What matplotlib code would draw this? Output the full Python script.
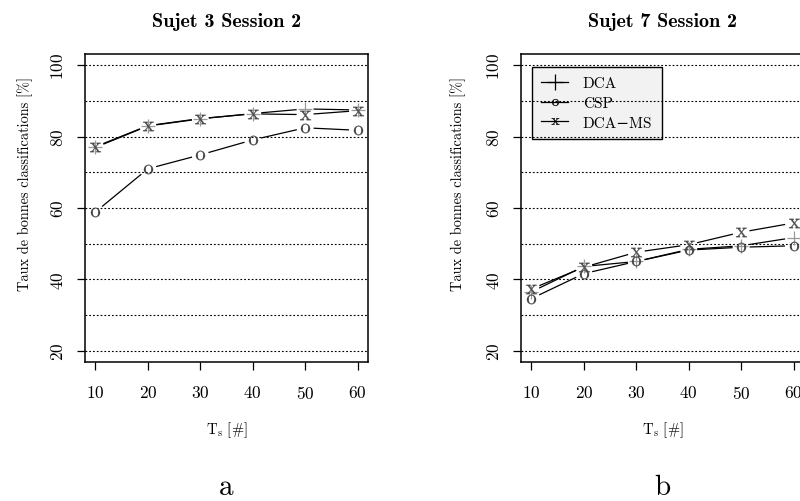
import matplotlib
matplotlib.use("Agg")
import matplotlib.pyplot as plt
from matplotlib.lines import Line2D
from matplotlib.ticker import MultipleLocator
import numpy as np

plt.rcParams['font.family'] = ['cmr10', 'DejaVu Serif']
plt.rcParams['mathtext.fontset'] = 'cm'
plt.rcParams['axes.formatter.use_mathtext'] = True

# ---- data ----
T = [10, 20, 30, 40, 50, 60]
titles = ["Sujet 3 Session 2", "Sujet 7 Session 2"]
panel_letters = ["a", "b"]
series_names = ["DCA", "CSP", "DCA\u2212MS"]

a_dca = [77.0, 83.0, 85.0, 86.5, 87.8, 87.5]
a_csp = [58.9, 71.0, 74.9, 79.1, 82.5, 81.8]
a_dcams = [77.2, 83.1, 85.1, 86.4, 86.2, 87.3]

b_dca = [36.5, 43.6, 45.0, 48.4, 49.4, 51.7]
b_csp = [34.6, 41.6, 45.0, 48.2, 49.0, 49.4]
b_dcams = [37.3, 43.4, 47.6, 49.7, 53.2, 55.8]

y_ticks = [20, 40, 60, 80, 100]
x_label = r"T$_{\rm s}$ [#]"
y_label = "Taux de bonnes classifications [%]"

# ---- styles ----
W, H = 800, 502
markers = ['+', r'$\mathrm{o}$', r'$\mathrm{x}$']
mcolors = ['#9a9a9a', '#404040', '#4a4a4a']
msizes = [10, 6.8, 7.8]
mews = [0.9, 0.2, 0.2]

fig = plt.figure(figsize=(W / 100, H / 100), dpi=100)


def px_axes(left, top, width, height):
    return fig.add_axes([left / W, 1 - (top + height) / H, width / W, height / H])


def gapped_line(ax, x, y, gap=8.5):
    pts = ax.transData.transform(np.column_stack([x, y]))
    inv = ax.transData.inverted()
    for p0, p1 in zip(pts[:-1], pts[1:]):
        d = p1 - p0
        L = np.hypot(*d)
        if L <= 2 * gap:
            continue
        u = d / L
        q = inv.transform(np.array([p0 + u * gap, p1 - u * gap]))
        ax.plot(q[:, 0], q[:, 1], color='black', lw=0.9, zorder=3,
                solid_capstyle='butt')


panels = [
    (85, 25, [a_dca, a_csp, a_dcams]),
    (521, 458, [b_dca, b_csp, b_dcams]),
]

for i, (left, ylab_x, series) in enumerate(panels):
    ax = px_axes(left, 55, 283, 308)
    ax.set_xlim(8, 62)
    ax.set_ylim(16.8, 103.2)
    ax.set_xticks(T)
    ax.set_yticks(y_ticks)
    ax.yaxis.set_minor_locator(MultipleLocator(10))
    ax.tick_params(axis='x', which='major', direction='out', length=6,
                   width=0.9, labelsize=12.5, pad=10)
    ax.tick_params(axis='y', which='major', direction='out', length=6,
                   width=0.9, labelsize=12.5, pad=8)
    ax.tick_params(axis='y', which='minor', length=0)
    for lab in ax.get_yticklabels():
        lab.set_rotation(90)
        lab.set_va('center')
    ax.set_axisbelow(False)
    ax.grid(True, axis='y', which='both', color='black', lw=0.8,
            linestyle=(0, (1.6, 1.8)))
    for sp in ax.spines.values():
        sp.set_linewidth(1.1)

    for s, vals in enumerate(series):
        gapped_line(ax, T, vals)
        ax.plot(T, vals, linestyle='none', marker=markers[s],
                markersize=msizes[s], color=mcolors[s], mec=mcolors[s],
                mfc=mcolors[s], mew=mews[s], zorder=4)

    ax.set_title(titles[i], fontfamily='cmb10', fontsize=14.5, pad=20)
    ax.set_xlabel(x_label, fontsize=10.5)
    ax.xaxis.set_label_coords(0.5, -(430 - 363) / 308)
    ax.xaxis.label.set_va('center')
    ax.set_ylabel(y_label, fontsize=10.3)
    ax.yaxis.set_label_coords((ylab_x - left) / 283, (363 - 184) / 308)
    ax.yaxis.label.set_va('center')
    ax.yaxis.label.set_ha('center')

    ax.text(0.5, -(488 - 363) / 308, panel_letters[i], transform=ax.transAxes,
            ha='center', va='center', fontsize=21)

    if i == 1:
        handles = [Line2D([], [], color='black', lw=0.9, marker=markers[s],
                          markersize=[11, 5, 5.5][s], mew=mews[s],
                          mfc='black', mec='black')
                   for s in range(3)]
        leg = ax.legend(handles, series_names, loc='upper left',
                        bbox_to_anchor=((531.7 - left) / 283, (363 - 68.3) / 308),
                        borderaxespad=0, fancybox=False, framealpha=1,
                        facecolor='#f2f2f2', edgecolor='black', fontsize=11,
                        handlelength=1.8, handletextpad=0.95, labelspacing=0.4,
                        borderpad=0.6)
        leg.get_frame().set_linewidth(1.0)
        leg.set_zorder(2)

fig.savefig("out.png", dpi=100)
